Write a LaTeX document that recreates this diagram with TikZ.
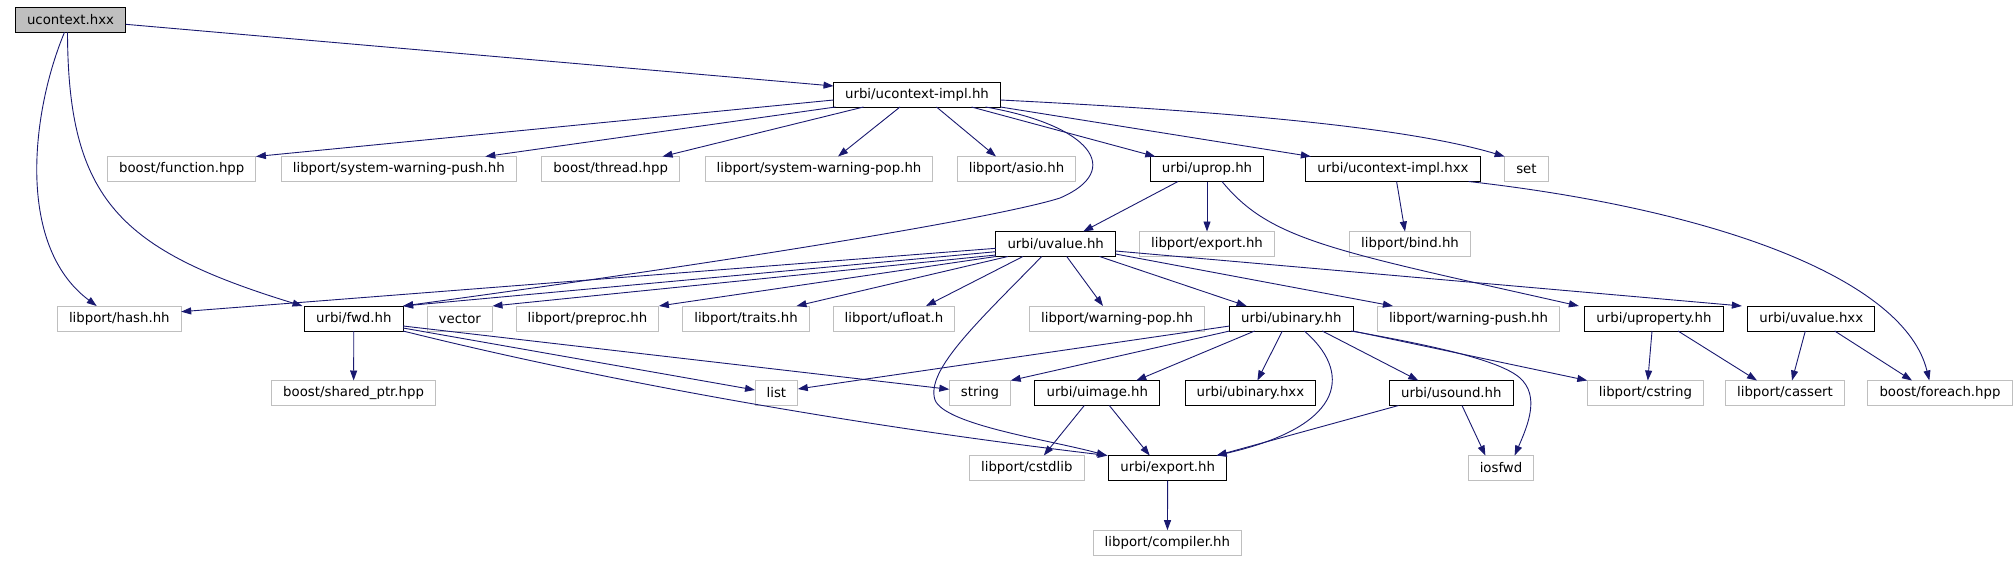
\documentclass[tikz,border=0pt]{standalone}
\usepackage{fontspec}
\setmainfont{DejaVu Sans}
\usepackage{tikz}
\usetikzlibrary{arrows.meta}
\definecolor{edgeblue}{HTML}{191970}
\definecolor{extgray}{HTML}{BFBFBF}
\definecolor{rootgray}{HTML}{BFBFBF}
\tikzset{
  line/.style={draw=edgeblue, -{Triangle[length=10pt,width=7pt]}, line width=0.9pt},
  box/.style={
    draw=black,
    line width=1pt,
    font=\fontsize{13.3}{16}\selectfont,
    inner xsep=11.6pt,
    inner ysep=0pt,
    minimum height=25pt,
    outer sep=0pt
  },
  extbox/.style={box, draw=extgray},
  rootbox/.style={box, fill=rootgray}
}
\begin{document}
\begin{tikzpicture}[x=1pt,y=-1pt]
  \path[use as bounding box] (0,0) rectangle (2016,560);

  \node[rootbox] (root) at (70.5,19.8) {ucontext.hxx};
  \node[box] (impl) at (917,94.5) {urbi/ucontext-impl.hh};

  \node[extbox] (function) at (181.7,169) {boost/function.hpp};
  \node[extbox] (swpush) at (398.8,169) {libport/system-warning-push.hh};
  \node[extbox] (thread) at (610.7,169) {boost/thread.hpp};
  \node[extbox] (swpop) at (819,169) {libport/system-warning-pop.hh};
  \node[extbox] (asio) at (1016.5,169) {libport/asio.hh};
  \node[box] (uprop) at (1207,169) {urbi/uprop.hh};
  \node[box] (implx) at (1393,169) {urbi/ucontext-impl.hxx};
  \node[extbox] (set) at (1526.4,169) {set};

  \node[box] (uvalue) at (1055.7,244) {urbi/uvalue.hh};
  \node[extbox] (lexport) at (1207,244) {libport/export.hh};
  \node[extbox] (bind) at (1410,244) {libport/bind.hh};

  \node[extbox] (hash) at (119.3,318.5) {libport/hash.hh};
  \node[box] (fwd) at (353.8,318.5) {urbi/fwd.hh};
  \node[extbox] (vector) at (459.8,318.5) {vector};
  \node[extbox] (preproc) at (587.5,318.5) {libport/preproc.hh};
  \node[extbox] (traits) at (746,318.5) {libport/traits.hh};
  \node[extbox] (ufloat) at (894,318.5) {libport/ufloat.h};
  \node[extbox] (wpop) at (1117,318.5) {libport/warning-pop.hh};
  \node[box] (ubinary) at (1291.3,318.5) {urbi/ubinary.hh};
  \node[extbox] (wpush) at (1468.5,318.5) {libport/warning-push.hh};
  \node[box] (uproperty) at (1654,318.5) {urbi/uproperty.hh};
  \node[box] (uvaluehxx) at (1811.3,318.5) {urbi/uvalue.hxx};

  \node[extbox] (sharedptr) at (353.6,393) {boost/shared\_ptr.hpp};
  \node[extbox] (list) at (776.4,393) {list};
  \node[extbox] (string) at (980,393) {string};
  \node[box] (uimage) at (1097.3,393) {urbi/uimage.hh};
  \node[box] (ubinaryhxx) at (1250.4,393) {urbi/ubinary.hxx};
  \node[box] (usound) at (1451.3,393) {urbi/usound.hh};
  \node[extbox] (cstring) at (1645.4,393) {libport/cstring};
  \node[extbox] (cassert) at (1785,393) {libport/cassert};
  \node[extbox] (foreach) at (1940,393) {boost/foreach.hpp};

  \node[extbox] (cstdlib) at (1026.8,468) {libport/cstdlib};
  \node[box] (uexport) at (1167.7,468) {urbi/export.hh};
  \node[extbox] (iosfwd) at (1501,468) {iosfwd};

  \node[extbox] (compiler) at (1167.4,542.7) {libport/compiler.hh};

  \draw[line] ([yshift=-4.5pt]root.east) -- ([yshift=8.5pt]impl.west);
  \draw[line] ([xshift=-6pt]root.south) .. controls (32,110) and (15,245) .. ([xshift=-22.6pt]hash.north);
  \draw[line] ([xshift=-3pt]root.south) .. controls (68,200) and (120,250) .. ([xshift=-2pt]fwd.north west);

  \draw[line] ([yshift=-5.5pt]impl.west) -- (function.north east);
  \draw[line] ([xshift=2pt]impl.south west) -- ([xshift=-31pt]swpush.north east);
  \draw[line] ([xshift=30pt]impl.south west) -- ([xshift=-17pt]thread.north east);
  \draw[line] ([xshift=-17pt]impl.south) -- ([xshift=19pt]swpop.north);
  \draw[line] ([xshift=19.5pt]impl.south) -- ([xshift=-20.5pt]asio.north);
  \draw[line] ([xshift=54.5pt]impl.south) -- ([xshift=5pt]uprop.north west);
  \draw[line] (impl.south east) -- ([xshift=5pt]implx.north west);
  \draw[line] ([yshift=-5.5pt]impl.east) .. controls (1200,110) and (1400,125) .. (set.north west);
  \draw[line] ([xshift=-15pt]impl.south east) .. controls (1090,125) and (1125,170) .. (1060,198)
    .. controls (1010,214) and (800,252) .. (fwd.north east);

  \draw[line] ([xshift=-29pt]uprop.south) -- ([xshift=27.5pt]uvalue.north);
  \draw[line] (uprop) -- (lexport);
  \draw[line] ([xshift=15pt]uprop.south) .. controls (1270,240) and (1330,250) .. ([xshift=-6pt]uproperty.north west);
  \draw[line] ([xshift=3.6pt]implx.south) -- ([xshift=-5pt]bind.north);
  \draw[line] ([xshift=-11.5pt]implx.south east) .. controls (1720,210) and (1905,280) .. ([xshift=-10.7pt]foreach.north);

  \draw[line] ([yshift=-4.3pt]uvalue.west) -- ([yshift=6.8pt]hash.east);
  \draw[line] ([yshift=-7.7pt]uvalue.west) -- (fwd.north east);
  \draw[line] ([yshift=-11pt]uvalue.west) -- (vector.north east);
  \draw[line] (uvalue.south west) -- (preproc.north east);
  \draw[line] ([xshift=12pt]uvalue.south west) -- ([xshift=-12.8pt]traits.north east);
  \draw[line] ([xshift=27pt]uvalue.south west) -- ([xshift=32pt]ufloat.north);
  \draw[line] ([xshift=-14pt]uvalue.south) .. controls (980,320) and (925,370) .. (935,400)
    .. controls (945,425) and (1050,440) .. ([xshift=-2pt]uexport.north west);
  \draw[line] ([xshift=11pt]uvalue.south) -- ([xshift=-14pt]wpop.north);
  \draw[line] ([xshift=-16pt]uvalue.south east) -- ([xshift=17pt]ubinary.north west);
  \draw[line] ([yshift=-10pt]uvalue.east) -- ([xshift=15.5pt]wpush.north west);
  \draw[line] ([yshift=-7pt]uvalue.east) -- ([xshift=-6pt]uvaluehxx.north west);

  \draw[line] (fwd) -- (sharedptr);
  \draw[line] ([yshift=-9.5pt]fwd.east) -- ([yshift=3pt]list.west);
  \draw[line] ([yshift=-7.5pt]fwd.east) -- ([yshift=3.7pt]string.west);
  \draw[line] (fwd.south east) .. controls (600,380) and (850,425) .. ([xshift=-1pt]uexport.north west);

  \draw[line] ([yshift=-7.5pt]ubinary.west) -- ([yshift=4pt]list.east);
  \draw[line] (ubinary.south west) -- (string.north east);
  \draw[line] ([xshift=25pt]ubinary.south west) -- ([xshift=39pt]uimage.north);
  \draw[line] ([xshift=-9pt]ubinary.south) -- ([xshift=7pt]ubinaryhxx.north);
  \draw[line] ([xshift=13pt]ubinary.south) .. controls (1350,370) and (1350,425) .. ([xshift=-10pt]uexport.north east);
  \draw[line] ([xshift=31pt]ubinary.south) -- ([xshift=-33pt]usound.north);
  \draw[line] (ubinary.south east) -- (cstring.north west);
  \draw[line] ([xshift=-2pt]ubinary.south east) .. controls (1430,345) and (1500,360) .. (1520,378)
    .. controls (1540,396) and (1528,425) .. ([xshift=13.6pt]iosfwd.north);

  \draw[line] ([xshift=-13pt]uimage.south) -- ([xshift=17pt]cstdlib.north);
  \draw[line] ([xshift=12pt]uimage.south) -- ([xshift=-18pt]uexport.north);
  \draw[line] ([xshift=9pt]usound.south west) -- ([xshift=-10pt]uexport.north east);
  \draw[line] ([xshift=10.7pt]usound.south) -- ([xshift=-15.6pt]iosfwd.north);

  \draw[line] ([xshift=-2pt]uproperty.south) -- ([xshift=2.4pt]cstring.north);
  \draw[line] ([xshift=24pt]uproperty.south) -- ([xshift=-28pt]cassert.north);
  \draw[line] ([xshift=-6pt]uvaluehxx.south) -- ([xshift=7pt]cassert.north);
  \draw[line] ([xshift=23.4pt]uvaluehxx.south) -- ([xshift=-28pt]foreach.north);

  \draw[line] (uexport) -- (compiler);
\end{tikzpicture}
\end{document}
